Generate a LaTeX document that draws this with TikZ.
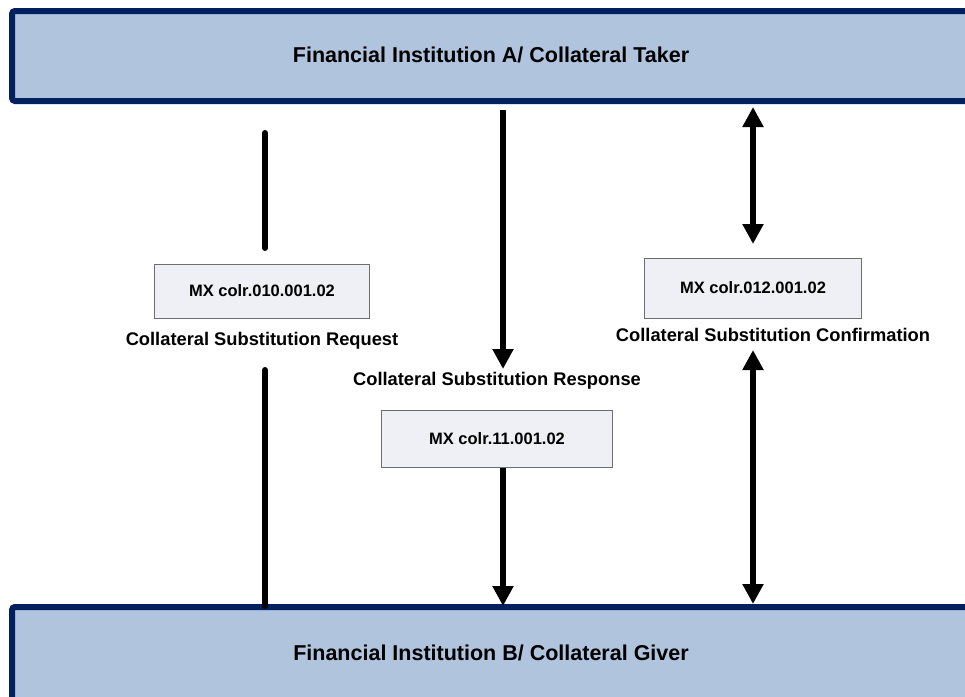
\documentclass[tikz,border=0pt]{standalone}
\usepackage{fontspec}
\setmainfont{Liberation Sans}
\usetikzlibrary{arrows.meta}
\definecolor{navy}{RGB}{0,32,96}
\definecolor{barfill}{RGB}{176,196,222}
\definecolor{boxfill}{RGB}{238,240,245}
\definecolor{boxline}{RGB}{110,110,110}
\tikzset{
  bar/.style={draw=navy, fill=barfill, line width=6pt, rounded corners=3pt},
  msgbox/.style={draw=boxline, fill=boxfill, line width=1pt, minimum width=215pt, minimum height=54pt, font=\bfseries\fontsize{16.5}{20}\selectfont},
  lbl/.style={font=\bfseries\fontsize{18.3}{21}\selectfont, inner sep=0pt},
  ttl/.style={font=\bfseries\fontsize{21.5}{24}\selectfont, inner sep=0pt},
  wire/.style={line width=6pt, line cap=round},
  arr/.style={line width=6pt, -{Triangle[width=20pt,length=20pt]}},
  darr/.style={line width=6pt, {Triangle[width=20pt,length=20pt]}-{Triangle[width=20pt,length=20pt]}}
}
\begin{document}
\begin{tikzpicture}[x=1pt,y=-1pt]
\useasboundingbox (0,0) rectangle (965,696);
\clip (0,0) rectangle (965,696);
\fill[white] (0,0) rectangle (965,696);
% bars
\draw[bar] (12,11) rectangle (995,101);
\node[ttl] (top) at (491,55) {Financial Institution A/ Collateral Taker};
\draw[bar] (12,607) rectangle (995,720);
\node[ttl] (bot) at (491,653) {Financial Institution B/ Collateral Giver};
% boxes
\node[msgbox, minimum width=215pt] (b1) at (262,291) {MX colr.010.001.02};
\node[lbl] (l1) at (262,341) {Collateral Substitution Request};
\node[msgbox, minimum width=231pt, minimum height=57pt] (b2) at (497,439) {MX colr.11.001.02};
\node[lbl] (l2) at (497,381) {Collateral Substitution Response};
\node[msgbox, minimum width=217pt, minimum height=60pt] (b3) at (753,288) {MX colr.012.001.02};
\node[lbl] (l3) at (773,335) {Collateral Substitution Confirmation};
% connector end points
\coordinate (w1a) at (265,133);
\coordinate (w1b) at (265,248);
\coordinate (w1c) at (265,370);
\coordinate (w1d) at (265,606);
\coordinate (a2a) at (503,110);
\coordinate (a2b) at (503,369);
\coordinate (a2c) at (503,468);
\coordinate (a2d) at (503,606);
\coordinate (a3a) at (753,107);
\coordinate (a3b) at (753,244);
\coordinate (a3c) at (753,350);
\coordinate (a3d) at (753,604);
% connectors
\draw[wire] (w1a) -- (w1b);
\draw[wire] (w1c) -- (w1d);
\draw[arr] (a2a) -- (a2b);
\draw[arr] (a2c) -- (a2d);
\draw[darr] (a3a) -- (a3b);
\draw[darr] (a3c) -- (a3d);
\end{tikzpicture}
\end{document}
